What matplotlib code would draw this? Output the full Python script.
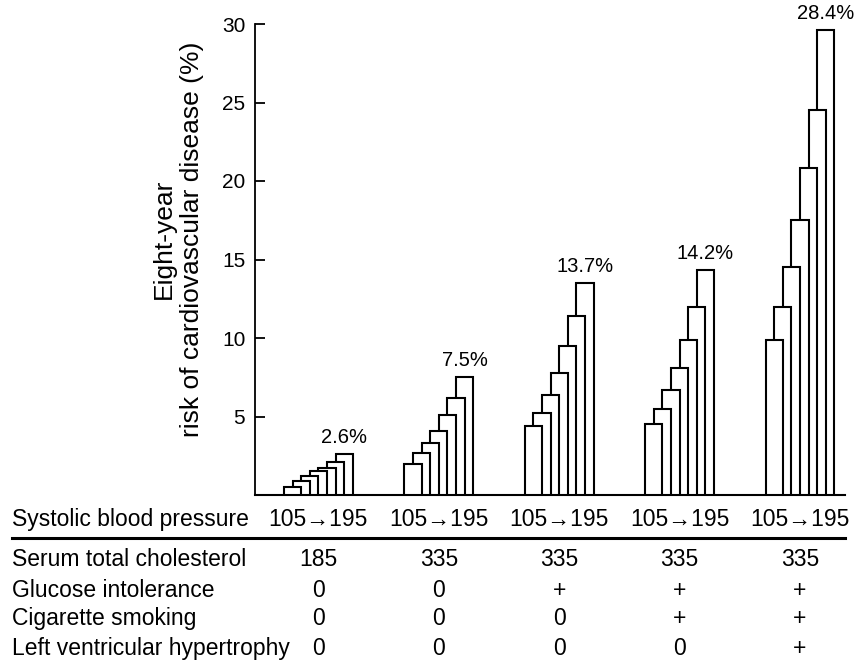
import matplotlib
matplotlib.use("Agg")
import matplotlib.pyplot as plt
from matplotlib.lines import Line2D
import matplotlib.transforms as mtransforms

plt.rcParams['font.family'] = ['Liberation Sans', 'DejaVu Sans']

# ---- data ----
sbp_levels = [105, 120, 135, 150, 165, 180, 195]
risk_g1 = [0.5, 0.9, 1.2, 1.5, 1.7, 2.1, 2.6]
risk_g2 = [2.0, 2.7, 3.3, 4.1, 5.1, 6.2, 7.5]
risk_g3 = [4.4, 5.2, 6.4, 7.8, 9.5, 11.4, 13.5]
risk_g4 = [4.5, 5.5, 6.7, 8.1, 9.9, 12.0, 14.3]
risk_g5 = [9.9, 12.0, 14.5, 17.5, 20.8, 24.5, 29.6]
risks = [risk_g1, risk_g2, risk_g3, risk_g4, risk_g5]
pct_labels = ["2.6%", "7.5%", "13.7%", "14.2%", "28.4%"]
yticks = [5, 10, 15, 20, 25, 30]

sbp_row = ["105\u2192195"] * 5
row_labels = ["Serum total cholesterol", "Glucose intolerance",
              "Cigarette smoking", "Left ventricular hypertrophy"]
cholesterol = ["185", "335", "335", "335", "335"]
glucose = ["0", "0", "+", "+", "+"]
smoking = ["0", "0", "0", "+", "+"]
lvh = ["0", "0", "0", "0", "+"]
table_rows = [cholesterol, glucose, smoking, lvh]

# ---- layout ----
W, H = 856, 667
fig = plt.figure(figsize=(W / 100, H / 100), dpi=100)
ax = fig.add_axes([255 / W, 1 - 495 / H, (845 - 255) / W, (495 - 24) / H])

unit = 8.6  # px per x unit
group_starts = [(284 - 255) / unit + k * 14 for k in range(5)]
n = len(sbp_levels)

for g, start in enumerate(group_starts):
    for i, h in enumerate(risks[g]):
        ax.bar(start + i, h, width=2, align='edge', facecolor='white',
               edgecolor='black', linewidth=1.5, zorder=10 - i)
    ax.text(start + n, risks[g][-1] + 0.45, pct_labels[g], ha='center',
            va='bottom', fontsize=14.5, zorder=20, clip_on=False)

ax.set_xlim(0, (845 - 255) / unit)
ax.set_ylim(0, 30)
ax.set_yticks(yticks)
ax.set_xticks([])
ax.tick_params(axis='y', direction='in', length=7, width=1.3, pad=7, labelsize=15)
for s in ['top', 'right']:
    ax.spines[s].set_visible(False)
ax.spines['left'].set_linewidth(1.3)
ax.spines['bottom'].set_linewidth(1.5)
ax.spines['left'].set_bounds(0, 30)

fig.text(178 / W, 1 - 239 / H, "Eight-year\nrisk of cardiovascular disease (%)",
         rotation=90, ha='center', va='center', multialignment='center',
         fontsize=19, linespacing=1.25)

# ---- table below ----
trans = mtransforms.blended_transform_factory(ax.transData, fig.transFigure)
centers = [s + n / 2 + 0.5 for s in group_starts]

fs = 16.5
y_sbp = 1 - 526 / H
fig.text(12 / W, y_sbp, "Systolic blood pressure", ha='left', va='baseline', fontsize=fs)
for c, t in zip(centers, sbp_row):
    fig.text(c, y_sbp, t, ha='center', va='baseline', fontsize=fs, transform=trans)

fig.add_artist(Line2D([12 / W, 845 / W], [1 - 538 / H] * 2, lw=2.2, color='black'))

row_ys = [566, 597, 625, 655]
for lab, vals, yp in zip(row_labels, table_rows, row_ys):
    yf = 1 - yp / H
    fig.text(12 / W, yf, lab, ha='left', va='baseline', fontsize=fs)
    for c, t in zip(centers, vals):
        fig.text(c, yf, t, ha='center', va='baseline', fontsize=fs, transform=trans)

fig.savefig("out.png", dpi=100)
